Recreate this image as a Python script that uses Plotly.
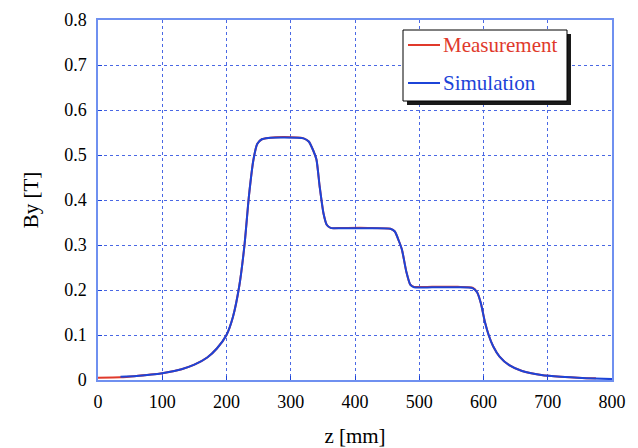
import plotly.graph_objects as go

# Measurement (red)
meas_z = [0, 35, 60, 100, 130, 150, 170, 185, 200, 210, 220, 228, 235, 242, 248, 255, 265, 290,
          320, 328, 335, 340, 345, 351, 356, 362, 380, 420, 455, 462, 468, 473, 480, 486, 492,
          520, 560, 583, 590, 596, 602, 608, 615, 625, 640, 660, 690, 720, 760, 775]
meas_b = [0.005, 0.006, 0.009, 0.015, 0.024, 0.034, 0.05, 0.07, 0.10, 0.14, 0.21, 0.30, 0.41, 0.49,
          0.525, 0.535, 0.538, 0.540, 0.537, 0.530, 0.51, 0.49, 0.43, 0.37, 0.345, 0.338, 0.338,
          0.338, 0.336, 0.33, 0.31, 0.29, 0.24, 0.212, 0.207, 0.207, 0.207, 0.205, 0.195, 0.17,
          0.13, 0.10, 0.075, 0.052, 0.033, 0.02, 0.011, 0.007, 0.004, 0.004]

# Simulation (blue)
sim_z = [35, 60, 100, 130, 150, 170, 185, 200, 210, 220, 228, 235, 242, 248, 255, 265, 290,
         320, 328, 335, 340, 345, 351, 356, 362, 380, 420, 455, 462, 468, 473, 480, 486, 492,
         520, 560, 583, 590, 596, 602, 608, 615, 625, 640, 660, 690, 720, 760, 800]
sim_b = [0.007, 0.009, 0.015, 0.024, 0.034, 0.05, 0.07, 0.10, 0.14, 0.21, 0.30, 0.41, 0.49,
         0.525, 0.535, 0.538, 0.539, 0.537, 0.530, 0.51, 0.49, 0.43, 0.37, 0.345, 0.338, 0.337,
         0.337, 0.336, 0.33, 0.31, 0.29, 0.24, 0.212, 0.206, 0.206, 0.206, 0.204, 0.195, 0.17,
         0.13, 0.10, 0.075, 0.052, 0.033, 0.02, 0.011, 0.007, 0.004, 0.002]

x_ticks = [0, 100, 200, 300, 400, 500, 600, 700, 800]
y_ticks = [0, 0.1, 0.2, 0.3, 0.4, 0.5, 0.6, 0.7, 0.8]
y_tick_text = ["0", "0.1", "0.2", "0.3", "0.4", "0.5", "0.6", "0.7", "0.8"]
legend_names = ["Measurement", "Simulation"]

RED = "#e0392b"
BLUE = "#1c44d8"
AXIS = "#6f90f0"
GRID = "#4a68e4"
FONT = "Liberation Serif"

W, H = 638, 448
L, R, T, B = 98, 26, 20, 68

fig = go.Figure()
fig.add_trace(go.Scatter(x=meas_z, y=meas_b, mode="lines", showlegend=False,
                         line=dict(color=RED, width=2, shape="spline", smoothing=0.6), name=legend_names[0]))
fig.add_trace(go.Scatter(x=sim_z, y=sim_b, mode="lines", showlegend=False,
                         line=dict(color=BLUE, width=2, shape="spline", smoothing=0.6), name=legend_names[1]))

axis_common = dict(showline=True, linecolor=AXIS, linewidth=1.5, mirror=True,
                   showgrid=True, gridcolor=GRID, griddash="dot", gridwidth=1,
                   zeroline=False, ticks="inside", ticklen=4, tickcolor=BLUE, automargin=False,
                   tickfont=dict(family=FONT, size=18, color="black"))

fig.update_xaxes(range=[0, 800], tickvals=x_ticks, ticktext=[str(v) for v in x_ticks],
                 ticklabelstandoff=5,
                 title=dict(text="z [mm]", font=dict(family=FONT, size=21, color="black"), standoff=19),
                 **axis_common)
fig.update_yaxes(range=[0, 0.8], tickvals=y_ticks, ticktext=y_tick_text,
                 ticklabelstandoff=6,
                 title=dict(text="By [T]", font=dict(family=FONT, size=21, color="black"), standoff=20),
                 **axis_common)

# manual legend in pixel-derived paper coordinates
pw, ph = W - L - R, H - T - B
def px(x):
    return (x - L) / pw
def py(y):
    return (H - B - y) / ph

fig.add_shape(type="rect", xref="paper", yref="paper", x0=px(407), x1=px(571), y0=py(105), y1=py(34),
              fillcolor="#1a1a1a", line=dict(width=0), layer="above")
fig.add_shape(type="rect", xref="paper", yref="paper", x0=px(403), x1=px(567), y0=py(101), y1=py(30),
              fillcolor="white", line=dict(color="black", width=1), layer="above")
for i, (nm, col) in enumerate(zip(legend_names, [RED, BLUE])):
    yy = 45 + i * 38
    fig.add_shape(type="line", xref="paper", yref="paper", x0=px(408), x1=px(440), y0=py(yy), y1=py(yy),
                  line=dict(color=col, width=2), layer="above")
    fig.add_annotation(xref="paper", yref="paper", x=px(441), y=py(yy), text=nm, showarrow=False,
                       xanchor="left", yanchor="middle", font=dict(family=FONT, size=21, color=col))

fig.update_layout(
    width=W, height=H,
    margin=dict(l=L, r=R, t=T, b=B),
    paper_bgcolor="white", plot_bgcolor="white",
    showlegend=False,
)

fig.write_html("out.html", config={"displayModeBar": False},
               post_script="document.body.style.margin='0';document.body.style.overflow='hidden';")
